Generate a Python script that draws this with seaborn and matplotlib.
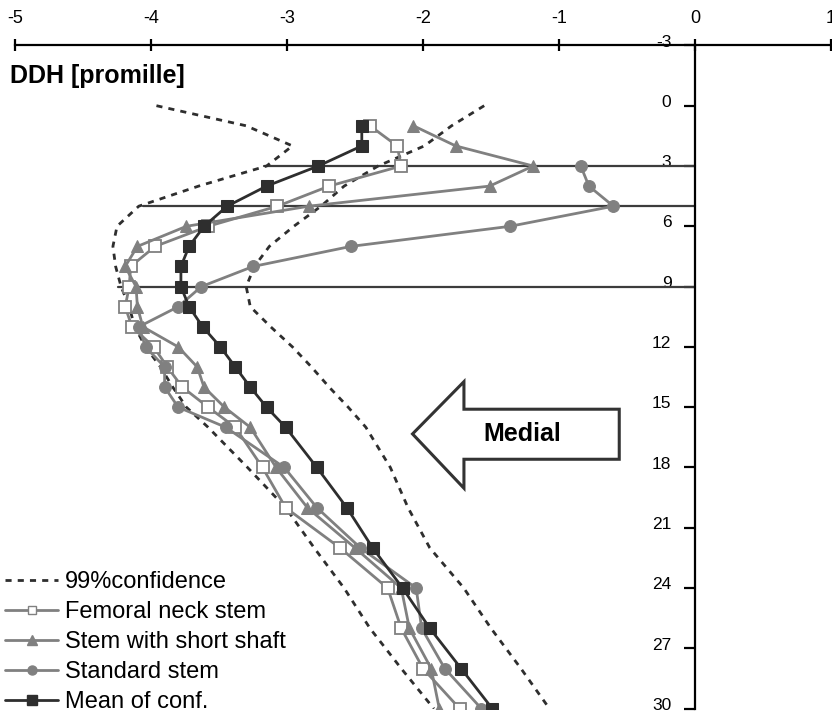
import numpy as np
import pandas as pd
import matplotlib
matplotlib.use("Agg")
import matplotlib.pyplot as plt
from matplotlib.lines import Line2D
from matplotlib.patches import Polygon
from matplotlib.transforms import ScaledTranslation
import seaborn as sns

# Measurement depths (y, downward) and DDH values (x, promille)
depth = [1, 2, 3, 4, 5, 6, 7, 8, 9, 10, 11, 12, 13, 14, 15, 16,
         18, 20, 22, 24, 26, 28, 30]
mean_conf = [-2.45, -2.45, -2.77, -3.15, -3.44, -3.61, -3.72, -3.78, -3.78, -3.72,
             -3.62, -3.49, -3.38, -3.27, -3.15, -3.01,
             -2.78, -2.56, -2.37, -2.15, -1.95, -1.72, -1.49]
femoral_neck = [-2.39, -2.19, -2.16, -2.69, -3.07, -3.58, -3.97, -4.15, -4.16, -4.19,
                -4.14, -3.98, -3.88, -3.77, -3.58, -3.38,
                -3.18, -3.01, -2.61, -2.26, -2.16, -2.00, -1.73]
short_shaft = [-2.07, -1.76, -1.19, -1.51, -2.84, -3.74, -4.10, -4.19, -4.11, -4.10,
               -4.06, -3.80, -3.66, -3.61, -3.46, -3.27,
               -3.08, -2.85, -2.50, -2.16, -2.10, -1.94, -1.88]
depth_standard = [3, 4, 5, 6, 7, 8, 9, 10, 11, 12, 13, 14, 15, 16,
                  18, 20, 22, 24, 26, 28, 30]
standard = [-0.84, -0.78, -0.60, -1.36, -2.53, -3.25, -3.63, -3.80, -4.09, -4.04,
            -3.90, -3.90, -3.80, -3.45, -3.02, -2.78, -2.46, -2.05, -2.01, -1.84, -1.57]

# 99% confidence band
depth_conf = [0, 1, 2, 3, 4, 5, 6, 7, 8, 9, 10, 11, 12, 13, 14, 15, 16,
              18, 20, 22, 24, 26, 28, 30]
conf_lower = [-3.96, -3.30, -2.96, -3.15, -3.65, -4.09, -4.25, -4.28, -4.26, -4.22,
              -4.16, -4.12, -4.04, -3.93, -3.84, -3.74, -3.58,
              -3.29, -3.01, -2.80, -2.58, -2.39, -2.16, -1.92]
conf_upper = [-1.55, -1.79, -1.99, -2.33, -2.58, -2.75, -2.95, -3.13, -3.24, -3.30,
              -3.27, -3.12, -2.96, -2.82, -2.69, -2.55, -2.42,
              -2.24, -2.11, -1.95, -1.70, -1.50, -1.28, -1.07]

# Reference levels
ref_depth = [3, 5, 9]
ref_start = [-3.17, -4.06, -4.24]

x_ticks = [-5, -4, -3, -2, -1, 0, 1]
y_ticks = [-3, 0, 3, 6, 9, 12, 15, 18, 21, 24, 27, 30]

sns.set_theme(style="white")
plt.rcParams["font.family"] = ["Liberation Sans", "DejaVu Sans"]

GRAY = "#808080"
DARK = "#2e2e2e"

fig = plt.figure(figsize=(8.32, 7.25), dpi=100)
ax = fig.add_axes([15 / 832, 1 - 708.7 / 725, 816 / 832, (708.7 - 45.4) / 725])
ax.set_xlim(-5, 1)
ax.set_ylim(30, -3)

# horizontal reference lines from start value to the vertical axis
for yv, xs in zip(ref_depth, ref_start):
    ax.plot([xs, 0], [yv, yv], color="#3c3c3c", lw=1.6, zorder=1)

conf_df = pd.DataFrame({"depth": depth_conf, "lower": conf_lower, "upper": conf_upper})
for col in ["lower", "upper"]:
    sns.lineplot(data=conf_df, x=col, y="depth", sort=False, estimator=None, ax=ax,
                 color=DARK, lw=2.0, linestyle=(0, (2.2, 2.2)), zorder=2)

main_df = pd.DataFrame({"depth": depth, "mean": mean_conf,
                        "femoral": femoral_neck, "short": short_shaft})
std_df = pd.DataFrame({"depth": depth_standard, "standard": standard})

sns.lineplot(data=main_df, x="femoral", y="depth", sort=False, estimator=None, ax=ax,
             color=GRAY, lw=2.0, marker="s", markersize=8, markerfacecolor="white",
             markeredgecolor=GRAY, markeredgewidth=1.3, zorder=3)
sns.lineplot(data=main_df, x="short", y="depth", sort=False, estimator=None, ax=ax,
             color=GRAY, lw=2.0, marker="^", markersize=9, markerfacecolor=GRAY,
             markeredgecolor=GRAY, zorder=3)
sns.lineplot(data=std_df, x="standard", y="depth", sort=False, estimator=None, ax=ax,
             color=GRAY, lw=2.0, marker="o", markersize=8.5, markerfacecolor=GRAY,
             markeredgecolor=GRAY, zorder=3)
sns.lineplot(data=main_df, x="mean", y="depth", sort=False, estimator=None, ax=ax,
             color=DARK, lw=2.0, marker="s", markersize=8.5, markerfacecolor=DARK,
             markeredgecolor=DARK, zorder=4)

# Axes styling: x axis along the top, y axis through x = 0
ax.set_xlabel("")
ax.set_ylabel("")
ax.grid(False)
ax.set_facecolor("white")
for s in ["right", "bottom"]:
    ax.spines[s].set_visible(False)
ax.spines["top"].set_color("black")
ax.spines["top"].set_linewidth(1.6)
ax.spines["left"].set_color("black")
ax.spines["left"].set_linewidth(1.6)
ax.spines["left"].set_position(("data", 0))
ax.xaxis.tick_top()
ax.set_xticks(x_ticks)
ax.set_yticks(y_ticks)
ax.set_xticklabels([str(v) for v in x_ticks])
ax.set_yticklabels([str(v) for v in y_ticks])
ax.tick_params(axis="x", which="major", direction="inout", length=8, width=1.6,
               color="black", labelsize=13, pad=9, top=True, bottom=False,
               labeltop=True, labelbottom=False, labelcolor="black")
ax.tick_params(axis="y", which="major", direction="out", length=8, width=1.6,
               color="black", labelsize=12.5, pad=9, left=True, right=False,
               labelcolor="black")
for t in ax.yaxis.get_major_ticks():
    t.label1.set_transform(t.label1.get_transform() +
                           ScaledTranslation(0, 3.5 / 72, fig.dpi_scale_trans))

# Medial direction arrow
arrow = Polygon([(-2.077, 16.33), (-1.699, 13.73), (-1.699, 15.10), (-0.557, 15.10),
                 (-0.557, 17.59), (-1.699, 17.59), (-1.699, 19.03)],
                closed=True, facecolor="white", edgecolor="#333333", lw=2.2, zorder=5)
ax.add_patch(arrow)
ax.text(-1.27, 16.35, "Medial", fontsize=18, fontweight="bold", ha="center",
        va="center", color="black", zorder=6)

fig.text(10 / 832, 1 - 76 / 725, "DDH [promille]", fontsize=18, fontweight="bold",
         ha="left", va="center", color="black")

handles = [
    Line2D([], [], color=DARK, lw=2.0, linestyle=(0, (2.2, 2.2))),
    Line2D([], [], color=GRAY, lw=2.0, marker="s", markersize=6,
           markerfacecolor="white", markeredgecolor=GRAY, markeredgewidth=1.0),
    Line2D([], [], color=GRAY, lw=2.0, marker="^", markersize=6.5,
           markerfacecolor=GRAY, markeredgecolor=GRAY),
    Line2D([], [], color=GRAY, lw=2.0, marker="o", markersize=6.5,
           markerfacecolor=GRAY, markeredgecolor=GRAY),
    Line2D([], [], color=DARK, lw=2.0, marker="s", markersize=6.5,
           markerfacecolor=DARK, markeredgecolor=DARK),
]
labels = ["99%confidence", "Femoral neck stem", "Stem with short shaft",
          "Standard stem", "Mean of conf."]
leg = fig.legend(handles, labels, loc="lower left",
                 bbox_to_anchor=(5 / 832, 1 - 713 / 725),
                 bbox_transform=fig.transFigure, frameon=False, fontsize=17,
                 handlelength=2.25, handletextpad=0.3, labelspacing=0.34,
                 borderpad=0, borderaxespad=0)
for txt in leg.get_texts():
    txt.set_color("black")

fig.savefig("out.png", dpi=100, facecolor="white")
